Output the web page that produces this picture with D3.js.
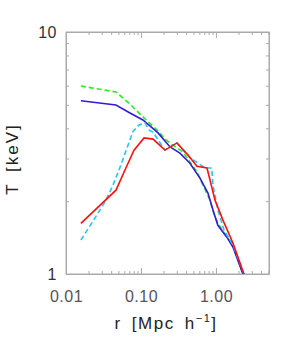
<!DOCTYPE html>
<html>
<head>
<meta charset="utf-8"/>
<script src="https://d3js.org/d3.v7.min.js"></script>
<style>
  body { margin: 0; padding: 0; background: #fff; width: 299px; height: 348px; font-family: 'Liberation Sans', 'DejaVu Sans', sans-serif; }
  .axis path { stroke: #aaa; }
  .axis line { stroke: #aaa; }
  .axis text { fill: #555; font-size: 16px; font-family: 'Liberation Sans', sans-serif; letter-spacing: 0.5px; }
</style>
</head>
<body>
<div id="chart"></div>
<script>
// radius [Mpc/h] and temperature [keV]
const redR   = [0.0158, 0.0464, 0.0612, 0.0807, 0.110, 0.145, 0.209, 0.302, 0.424, 0.558, 0.759, 0.832, 0.970, 1.24, 1.69, 2.36, 2.5];
const redT   = [1.62, 2.22, 2.69, 3.25, 3.65, 3.61, 3.25, 3.48, 3.10, 2.79, 2.74, 2.45, 2.02, 1.67, 1.34, 1.0, 0.95];

const blueR  = [0.0158, 0.0464, 0.0713, 0.106, 0.169, 0.244, 0.331, 0.450, 0.612, 0.782, 0.912, 1.06, 1.40, 1.69, 2.29, 2.45];
const blueT  = [5.20, 4.99, 4.63, 4.33, 3.83, 3.35, 3.16, 2.87, 2.49, 2.16, 1.84, 1.59, 1.42, 1.29, 1.0, 0.95];

const greenR = [0.0158, 0.0464, 0.0735, 0.117, 0.169, 0.215, 0.363, 0.558, 0.671, 0.832, 0.970, 1.20, 1.63, 2.29, 2.45];
const greenT = [5.98, 5.65, 4.99, 4.33, 3.90, 3.58, 3.19, 2.64, 2.33, 2.02, 1.72, 1.52, 1.34, 1.0, 0.95];

const cyanR  = [0.0158, 0.0251, 0.0342, 0.0423, 0.051, 0.078, 0.094, 0.113, 0.128, 0.145, 0.209, 0.302, 0.450, 0.725, 0.88, 0.912, 1.06, 1.28, 1.69, 2.36, 2.5];
const cyanT  = [1.38, 1.73, 2.02, 2.33, 2.69, 3.87, 4.13, 4.21, 3.94, 3.85, 3.25, 3.48, 3.02, 2.74, 2.74, 2.33, 1.84, 1.52, 1.32, 1.0, 0.95];

const xMajor = [0.01, 0.1, 1];
const xMajorLabels = ["0.01", "0.10", "1.00"];
const yMajor = [1, 10];
const yMajorLabels = ["1", "10"];

const W = 299, H = 348;
const margin = {top: 32, right: 30, bottom: 74, left: 66};
const width = W - margin.left - margin.right;
const height = H - margin.top - margin.bottom;

const svg = d3.select("#chart").append("svg")
    .attr("width", W).attr("height", H);
const g = svg.append("g").attr("transform", `translate(${margin.left},${margin.top})`);

const x = d3.scaleLog().domain([0.01, 5.1]).range([0, width]);
const y = d3.scaleLog().domain([1, 10]).range([height, 0]);

// minor ticks 2..9 in each decade
const xMinor = [];
[0.01, 0.1, 1].forEach(d => { for (let k = 2; k <= 9; k++) { if (d * k <= 5.1) xMinor.push(d * k); } });
const yMinor = [];
for (let k = 2; k <= 9; k++) yMinor.push(k);

// clip for the lines
g.append("clipPath").attr("id", "clip").append("rect")
    .attr("width", width).attr("height", height);

function sideAxis(axisFn, pos, vals, size, labels, pad) {
    const a = axisFn.tickValues(vals).tickSizeInner(-size).tickSizeOuter(0).tickPadding(pad || 10);
    if (labels) a.tickFormat((d, i) => labels[i]); else a.tickFormat("");
    const s = g.append("g").attr("class", "axis").attr("transform", pos).call(a);
    return s;
}

// bottom
sideAxis(d3.axisBottom(x), `translate(0,${height})`, xMinor, 3);
sideAxis(d3.axisBottom(x), `translate(0,${height})`, xMajor, 6, xMajorLabels).selectAll("text").attr("dy", "1.1em");
// top
sideAxis(d3.axisTop(x), "translate(0,0)", xMinor, 3);
sideAxis(d3.axisTop(x), "translate(0,0)", xMajor, 6);
// left
sideAxis(d3.axisLeft(y), "translate(0,0)", yMinor, 3);
sideAxis(d3.axisLeft(y), "translate(0,0)", yMajor, 6, yMajorLabels, 9)
    .selectAll("text").style("fill", "#333");
// right
sideAxis(d3.axisRight(y), `translate(${width},0)`, yMinor, 3);
sideAxis(d3.axisRight(y), `translate(${width},0)`, yMajor, 6);

// frame
g.append("rect").attr("width", width).attr("height", height)
    .attr("fill", "none").attr("stroke", "#aaa").attr("stroke-width", 1);

const line = d3.line().x(d => x(d[0])).y(d => y(d[1]));
const series = [
    {r: greenR, t: greenT, color: "#22ee22", dash: "5,3"},
    {r: blueR,  t: blueT,  color: "#3a18d8", dash: null},
    {r: cyanR,  t: cyanT,  color: "#22c8f4", dash: "5,3"},
    {r: redR,   t: redT,   color: "#ff1010", dash: null}
];
series.forEach(s => {
    g.append("path")
        .datum(s.r.map((r, i) => [r, s.t[i]]))
        .attr("clip-path", "url(#clip)")
        .attr("fill", "none")
        .attr("stroke", s.color)
        .attr("stroke-width", 1.6)
        .attr("stroke-dasharray", s.dash)
        .attr("d", line);
});

// axis titles
svg.append("text")
    .attr("x", 166).attr("y", 329)
    .attr("text-anchor", "middle")
    .style("font-size", "17px").style("fill", "#222")
    .style("letter-spacing", "1.5px").style("word-spacing", "4px")
    .html('r [Mpc h<tspan dy="-7" font-size="11">−1</tspan><tspan dy="7">]</tspan>');

svg.append("text")
    .attr("transform", "translate(18,159) rotate(-90)")
    .attr("text-anchor", "middle")
    .style("font-size", "17px").style("fill", "#222")
    .style("letter-spacing", "2px").style("word-spacing", "4px")
    .text("T [keV]");
</script>
</body>
</html>
